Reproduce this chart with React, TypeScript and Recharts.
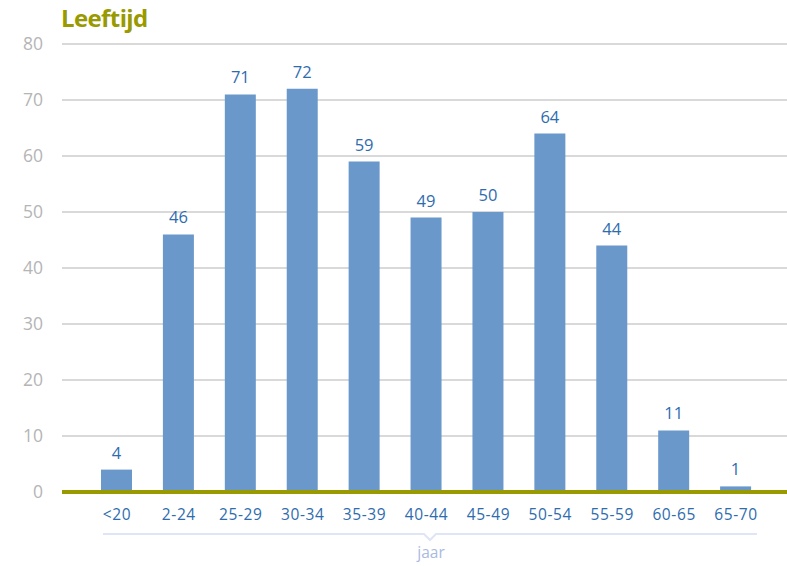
import { Bar, BarChart, CartesianGrid, LabelList, XAxis, YAxis } from 'recharts';

const AGE_GROUPS = ['<20', '2-24', '25-29', '30-34', '35-39', '40-44', '45-49', '50-54', '55-59', '60-65', '65-70'];
const COUNTS = [4, 46, 71, 72, 59, 49, 50, 64, 44, 11, 1];
const Y_TICKS = [0, 10, 20, 30, 40, 50, 60, 70, 80];

const BAR_COLOR = '#6b98ca';
const LABEL_COLOR = '#2e6cae';
const OLIVE = '#999900';
const FONT = '"Open Sans", "Noto Sans", sans-serif';

const data = AGE_GROUPS.map((group, i) => ({ group, count: COUNTS[i] }));

export default function App() {
  return (
    <div style={{ position: 'absolute', left: 0, top: 0, width: 787, height: 566, fontFamily: FONT, background: '#fff' }}>
      <div
        style={{
          position: 'absolute',
          left: 61,
          top: 1,
          fontSize: 24,
          fontWeight: 700,
          color: OLIVE,
          letterSpacing: -0.6,
        }}
      >
        Leeftijd
      </div>
      <BarChart
        width={787}
        height={566}
        data={data}
        margin={{ top: 44, right: 0, bottom: 44, left: 0 }}
        barSize={31}
      >
        <CartesianGrid horizontal vertical={false} stroke="#cccccc" strokeWidth={1.5} />
        <YAxis
          width={62}
          domain={[0, 80]}
          ticks={Y_TICKS}
          axisLine={false}
          tickLine={false}
          tickSize={0}
          tickMargin={19}
          tick={{ fill: '#b5b5b5', fontSize: 17.5, fontFamily: FONT }}
        />
        <XAxis
          dataKey="group"
          padding={{ left: 24, right: 20 }}
          axisLine={{ stroke: OLIVE, strokeWidth: 4 }}
          tickLine={false}
          tickSize={0}
          tickMargin={17}
          interval={0}
          tick={{ fill: LABEL_COLOR, fontSize: 15.5, fontFamily: FONT, letterSpacing: 0.6 }}
        />
        <Bar dataKey="count" fill={BAR_COLOR} isAnimationActive={false}>
          <LabelList dataKey="count" position="top" offset={11} fill={LABEL_COLOR} fontSize={16.5} fontFamily={FONT} />
        </Bar>
      </BarChart>
      {/* bracket under the categories with the unit caption */}
      <svg style={{ position: 'absolute', left: 0, top: 0 }} width={787} height={566}>
        <polyline
          points="103,534 424,534 430,540 436,534 757,534"
          fill="none"
          stroke="#dfe4f6"
          strokeWidth={2}
        />
        <text x={431} y={558} textAnchor="middle" fill="#a9badf" fontSize={15.5} fontFamily={FONT}>
          jaar
        </text>
      </svg>
    </div>
  );
}
